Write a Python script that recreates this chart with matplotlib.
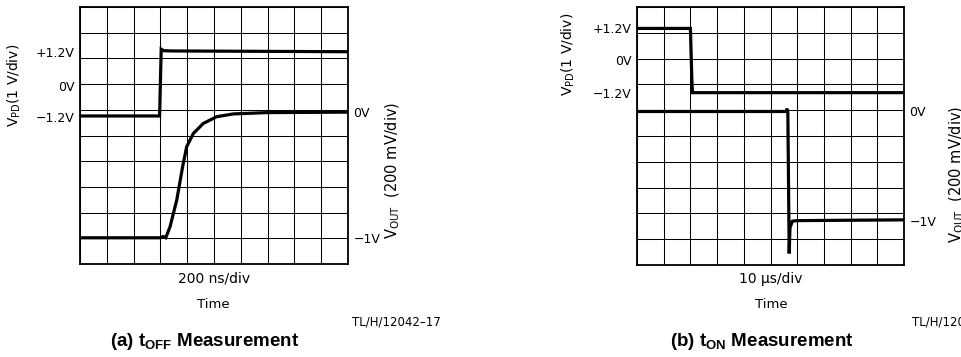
import matplotlib
matplotlib.use("Agg")
import matplotlib.pyplot as plt
from matplotlib.ticker import MultipleLocator

###############################################################################

plt.rcParams.update({
    "font.family": "DejaVu Sans",
    "font.size": 9,
    "mathtext.default": "regular",
})

W, H = 961, 357

###############################################################################
# traces in divisions (10 x 10 graticule)

# (a) t_OFF, 200 ns/div
off_vpd_t = [0.0, 2.97, 3.03, 3.12, 3.4, 10.0]
off_vpd_v = [5.76, 5.76, 8.36, 8.30, 8.29, 8.26]
off_out_t = [0.0, 3.0, 3.1, 3.2, 3.36, 3.61, 3.83, 3.98, 4.23, 4.6, 5.1, 5.72, 6.97, 10.0]
off_out_v = [1.02, 1.02, 1.07, 1.02, 1.45, 2.49, 3.79, 4.56, 5.08, 5.47, 5.73, 5.84, 5.89, 5.91]

# (b) t_ON, 10 us/div
on_vpd_t = [0.0, 2.0, 2.06, 2.08, 10.0]
on_vpd_v = [9.17, 9.17, 7.0, 6.68, 6.68]
on_out_t = [0.0, 5.58, 5.62, 5.65, 5.70, 5.73, 5.82, 6.0, 10.0]
on_out_v = [5.95, 5.95, 6.06, 5.90, 0.45, 1.45, 1.70, 1.72, 1.75]

# graticule labels (level in divisions, text)
off_left_pos = [5.72, 6.93, 8.25]
off_left_lbl = ["\u22121.2V", "0V", "+1.2V"]
off_right_pos = [1.0, 5.91]
off_right_lbl = ["\u22121V", "0V"]

on_left_pos = [6.66, 7.95, 9.18]
on_left_lbl = ["\u22121.2V", "0V", "+1.2V"]
on_right_pos = [1.72, 5.95]
on_right_lbl = ["\u22121V", "0V"]

###############################################################################


def px(x, y):
    return x / W, 1 - y / H


def scope(rect, traces, lpos, llbl, rpos, rlbl):
    ax = fig.add_axes(rect)
    ax.set_xlim(0, 10)
    ax.set_ylim(0, 10)
    ax.xaxis.set_minor_locator(MultipleLocator(1))
    ax.yaxis.set_minor_locator(MultipleLocator(1))
    ax.set_xticks([])
    ax.set_yticks(lpos, llbl)
    ax.grid(which="minor", color="black", lw=0.75)
    ax.tick_params(which="both", length=0, pad=4, labelsize=9)
    for s in ax.spines.values():
        s.set_linewidth(1.3)
    for t, v in traces:
        ax.plot(t, v, color="black", lw=2.3, solid_joinstyle="miter")
    ax2 = ax.twinx()
    ax2.set_ylim(0, 10)
    ax2.set_yticks(rpos, rlbl)
    ax2.tick_params(length=0, pad=4, labelsize=9)
    for s in ax2.spines.values():
        s.set_visible(False)
    return ax


fig = plt.figure(figsize=(W / 100, H / 100), dpi=100)

scope([80 / W, (H - 264) / H, 268 / W, 257 / H],
      [(off_vpd_t, off_vpd_v), (off_out_t, off_out_v)],
      off_left_pos, off_left_lbl, off_right_pos, off_right_lbl)
scope([637 / W, (H - 265) / H, 267 / W, 258 / H],
      [(on_vpd_t, on_vpd_v), (on_out_t, on_out_v)],
      on_left_pos, on_left_lbl, on_right_pos, on_right_lbl)

# axis captions
fig.text(*px(14, 85), "V$_{PD}$(1 V/div)", rotation=90, ha="center", va="center", fontsize=10)
fig.text(*px(393, 170), "V$_{OUT}$  (200 mV/div)", rotation=90, ha="center", va="center", fontsize=10.5)
fig.text(*px(568, 54), "V$_{PD}$(1 V/div)", rotation=90, ha="center", va="center", fontsize=10)
fig.text(*px(957, 174), "V$_{OUT}$  (200 mV/div)", rotation=90, ha="center", va="center", fontsize=10.5)

fig.text(*px(214, 279), "200 ns/div", ha="center", va="center", fontsize=10)
fig.text(*px(213, 304), "Time", ha="center", va="center", fontsize=9.5)
fig.text(*px(771, 279), "10 \u00b5s/div", ha="center", va="center", fontsize=10)
fig.text(*px(771, 304), "Time", ha="center", va="center", fontsize=9.5)

fig.text(*px(352, 322), "TL/H/12042\u201317", ha="left", va="center", fontsize=8.5)
fig.text(*px(912, 322), "TL/H/12042\u201318", ha="left", va="center", fontsize=8.5)

fig.text(*px(205, 342), "(a) t$_{OFF}$ Measurement", ha="center", va="center",
         fontsize=13.5, fontweight="bold", family="Liberation Sans")
fig.text(*px(762, 342), "(b) t$_{ON}$ Measurement", ha="center", va="center",
         fontsize=13.5, fontweight="bold", family="Liberation Sans")

fig.savefig("out.png", dpi=100)
